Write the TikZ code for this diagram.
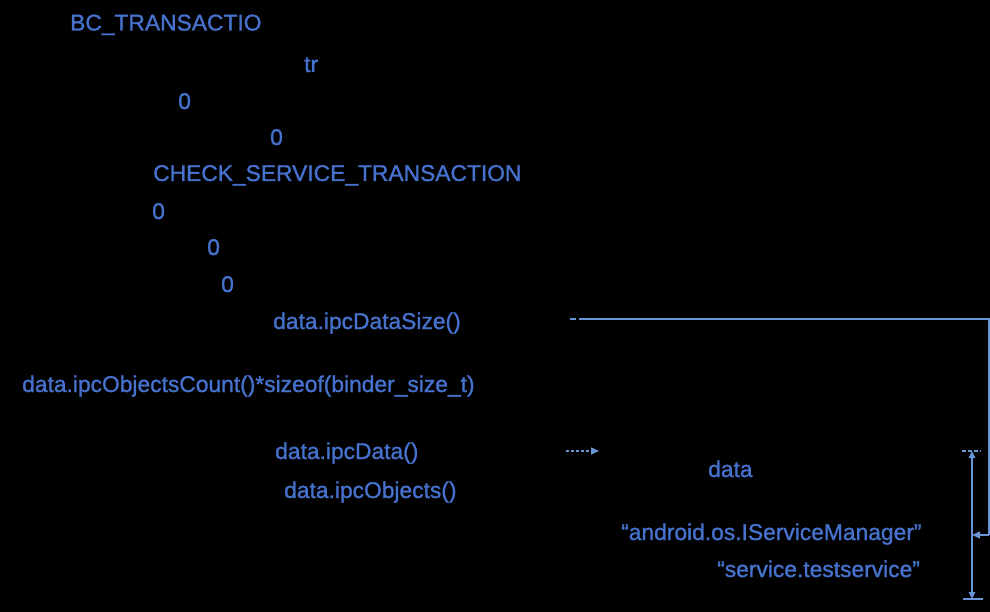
\documentclass[tikz,border=0pt]{standalone}
\usepackage{fontspec}
\setmainfont{Liberation Sans}
\newfontfamily\heavyfont{Liberation Sans}[FakeBold=1.2]
\usetikzlibrary{arrows.meta}
\definecolor{txtblue}{RGB}{70,114,206}
\definecolor{lineblue}{RGB}{104,150,214}

\begin{document}
\begin{tikzpicture}[
  x=1pt, y=-1pt,
  lbl/.style={anchor=base west, inner sep=0pt, text=txtblue, font=\heavyfont\fontsize{22.8}{26}\selectfont},
  link/.style={draw=lineblue, line width=1.4pt},
  arrow/.style={link, -{Triangle[length=8pt, width=7pt]}},
  dim/.style={link, {Triangle[length=7pt, width=6.5pt]}-{Triangle[length=7pt, width=6.5pt]}}
]
\fill[black] (0,0) rectangle (990,612);
\useasboundingbox (0,0) rectangle (990,612);

% transaction header fields
\node[lbl] (bcTrans) at (70,30.5) {BC\_TRANSACTIO};
\node[lbl] (trLbl) at (304,72) {tr};
\node[lbl] (zeroA) at (178,109) {0};
\node[lbl] (zeroB) at (270,145) {0};
\node[lbl] (checkSvc) at (153,181) {CHECK\_SERVICE\_TRANSACTION};
\node[lbl] (zeroC) at (152,219) {0};
\node[lbl] (zeroD) at (207,255) {0};
\node[lbl] (zeroE) at (221,292) {0};
\node[lbl] (dataSize) at (273,329) {data.ipcDataSize()};
\node[lbl] (objSize) at (22,392) {data.ipcObjectsCount()*sizeof(binder\_size\_t)};
\node[lbl] (ipcData) at (275,459) {data.ipcData()};
\node[lbl] (ipcObjs) at (284,498) {data.ipcObjects()};

% parcel contents
\node[lbl] (dataLbl) at (708,477) {data};
\node[lbl] (ifaceName) at (621,540) {“android.os.IServiceManager”};
\node[lbl] (svcName) at (717,577) {“service.testservice”};

\coordinate (sizeOut) at (570,319);
\coordinate (ptrStart) at (566,451);
\coordinate (ptrEnd) at (599,451);
\coordinate (dimTop) at (972,451);
\coordinate (dimBot) at (972,599);
\coordinate (dimMid) at (972,535);

\draw[link] (sizeOut) -- ++(6,0);
\draw[link] (579,319) -- (989,319) -- (989,535);
\draw[arrow] (989,535) -- (dimMid);
\draw[arrow, dash pattern=on 3pt off 2pt] (ptrStart) -- (ptrEnd);
\draw[dim] (dimTop) -- (dimBot);
\draw[link, dash pattern=on 4pt off 2pt] (962,451) -- (981,451);
\draw[link] (963,599) -- (983,599);
\end{tikzpicture}
\end{document}
